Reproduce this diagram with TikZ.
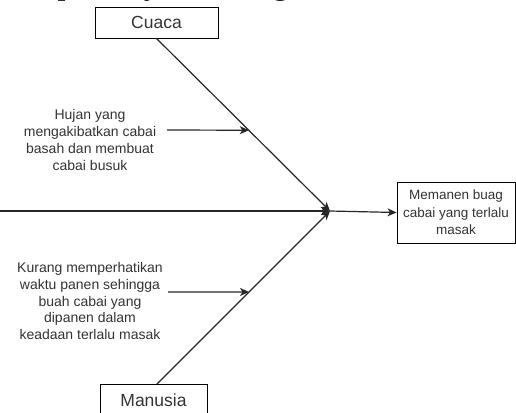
\documentclass[tikz,border=0pt]{standalone}
\usepackage{fontspec}
\setmainfont{Liberation Sans}
\newfontfamily\seriffont{Liberation Serif}
\usetikzlibrary{arrows.meta,calc}
\begin{document}
\begin{tikzpicture}[x=1pt,y=-1pt,
  box/.style={draw=black, line width=0.9pt, rectangle, inner sep=0pt, text=black!80},
  conn/.style={draw=black!85, line width=1.2pt, -{Stealth[length=9pt,width=8pt,inset=2.5pt]}},
  lbl/.style={font=\fontsize{14}{16.8}\selectfont, align=center, text=black!80},
]
\useasboundingbox (0,0) rectangle (516,412);
\clip (0,0) rectangle (516,412);
\node[anchor=base west, font=\seriffont\fontsize{32}{36}\selectfont, inner sep=0pt] (top) at (5,-5.5) {ada petani yaitu sebagai berikut.};
\node[box, minimum width=123pt, minimum height=31pt, font=\fontsize{17.5}{20}\selectfont] (cuaca) at (156.5,22.5) {Cuaca};
\node[box, minimum width=107pt, minimum height=31pt, font=\fontsize{17.5}{20}\selectfont] (manusia) at (153.5,400) {Manusia};
\node[box, minimum width=118pt, minimum height=61pt, align=center, font=\fontsize{13.5}{17.5}\selectfont] (effect) at (456,212.5) {Memanen buag\\cabai yang terlalu\\masak};
\coordinate (J) at (330,211);
\coordinate (L) at (0,211);
\draw[conn] (L) -- (J);
\draw[conn] (cuaca.south) -- (J);
\draw[conn] ([xshift=3.5pt]manusia.north) -- (J);
\draw[conn] (J) -- (effect.west);
\node[lbl] (hujan) at (90,140) {Hujan yang\\mengakibatkan cabai\\basah dan membuat\\cabai busuk};
\node[lbl] (kurang) at (90,301) {Kurang memperhatikan\\waktu panen sehingga\\buah cabai yang\\dipanen dalam\\keadaan terlalu masak};
\coordinate (h0) at (167,130);
\coordinate (m0) at (168,292);
\draw[conn] (h0) -- ($(cuaca.south)!0.532!(J)$);
\draw[conn] (m0) -- ($([xshift=3.5pt]manusia.north)!0.532!(J)$);
\end{tikzpicture}
\end{document}
